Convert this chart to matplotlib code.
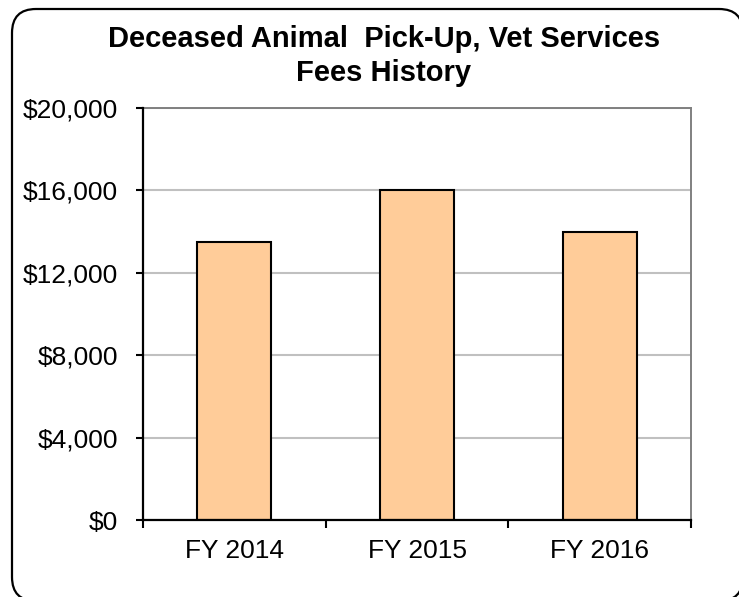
import matplotlib.pyplot as plt
from matplotlib.patches import FancyBboxPatch
from matplotlib.transforms import IdentityTransform
from matplotlib.ticker import FuncFormatter

plt.rcParams['font.family'] = ['Liberation Sans', 'DejaVu Sans']

categories = ['FY 2014', 'FY 2015', 'FY 2016']
fees = [13500, 16000, 14000]
y_ticks = [0, 4000, 8000, 12000, 16000, 20000]
title_lines = ['Deceased Animal  Pick-Up, Vet Services', 'Fees History']

W, H = 739, 597
fig = plt.figure(figsize=(W / 100, H / 100), dpi=100)

# rounded outer frame in pixel units (right/bottom edges sit just off the canvas);
# filled so agg does not clip the curved corners into stray lines
frame = FancyBboxPatch((12, H - 601), 731, 592,
                       boxstyle="round,pad=0,rounding_size=24",
                       transform=IdentityTransform(), facecolor='white',
                       edgecolor='black', linewidth=1.6, zorder=-1)
fig.patches.append(frame)

ax = fig.add_axes([143 / W, (H - 520) / H, (691 - 143) / W, (520 - 108) / H])
ax.set_facecolor('white')

x = range(len(categories))
ax.bar(x, fees, width=0.405, color='#FFCC99', edgecolor='black', linewidth=1.5, zorder=3)

ax.set_xlim(-0.5, len(categories) - 0.5)
ax.set_ylim(0, 20000)
ax.set_yticks(y_ticks)
ax.yaxis.set_major_formatter(FuncFormatter(lambda v, p: f'${v:,.0f}'))
ax.grid(axis='y', color='#C0C0C0', linewidth=1.5, zorder=1)

ax.set_xticks([-0.5, 0.5, 1.5, 2.5])
ax.set_xticklabels([])
ax.set_xticks(list(x), minor=True)
ax.set_xticklabels(categories, minor=True)
ax.tick_params(axis='x', which='major', direction='out', length=6, width=1.5, color='black')
ax.tick_params(axis='x', which='minor', length=0, pad=14, labelsize=19)
ax.tick_params(axis='y', direction='out', length=5, width=1.5, labelsize=19, pad=13)

for s in ['left', 'bottom']:
    ax.spines[s].set_color('black')
    ax.spines[s].set_linewidth(1.6)
    ax.spines[s].set_zorder(4)
for s in ['top', 'right']:
    ax.spines[s].set_color('#808080')
    ax.spines[s].set_linewidth(1.4)

for line, y in zip(title_lines, [47, 81]):
    fig.text(384 / W, 1 - y / H, line, ha='center', va='baseline',
             fontsize=21, fontweight='bold')

fig.savefig('out.png', dpi=100)
